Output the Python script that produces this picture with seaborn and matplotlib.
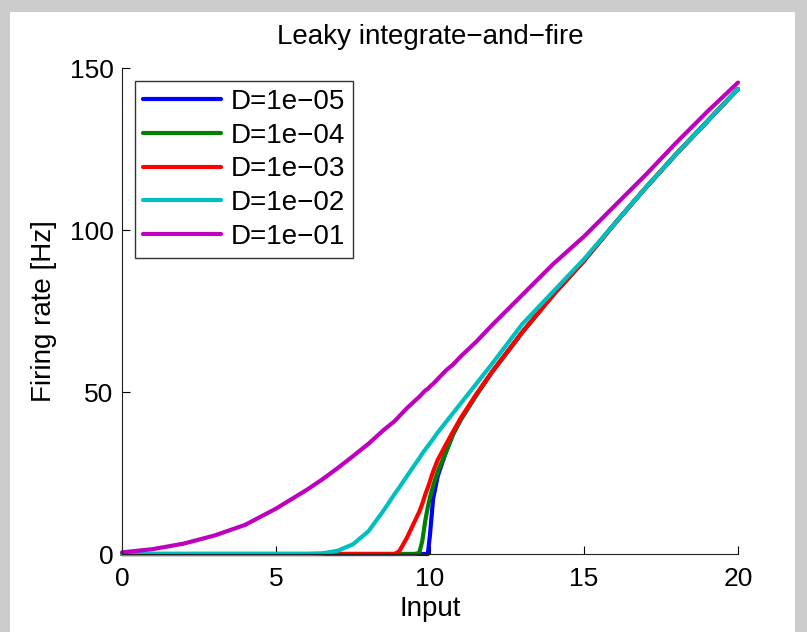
import numpy as np
import pandas as pd
import matplotlib
matplotlib.use("Agg")
import matplotlib.pyplot as plt
import seaborn as sns
from matplotlib.patches import Rectangle

# Values
x_input = [0, 1, 2, 3, 4, 5, 6, 6.5, 7, 7.5, 8, 8.5, 8.85, 9, 9.25, 9.5, 9.65, 9.75,
           9.85, 9.93, 10, 10.1, 10.25, 10.5, 10.75, 11, 11.5, 12, 13, 14, 15, 16,
           17, 18, 19, 20]

rate_d1e05 = [0, 0, 0, 0, 0, 0, 0, 0, 0, 0, 0, 0, 0, 0, 0, 0, 0, 0,
              0, 0, 6, 17, 24, 31, 37, 41.5, 49, 56, 68.5, 80, 90.5, 102,
              113, 123.5, 133.5, 143.5]
rate_d1e04 = [0, 0, 0, 0, 0, 0, 0, 0, 0, 0, 0, 0, 0, 0, 0, 0, 0.3, 4,
              10.5, 14.5, 17.5, 21, 25.5, 31, 37, 41.5, 49, 56, 68.5, 80, 90.5, 102,
              113, 123.5, 133.5, 143.5]
rate_d1e03 = [0, 0, 0, 0, 0, 0, 0, 0, 0, 0, 0, 0, 0, 0.8, 5, 10, 13, 15.5,
              18.5, 20.5, 22.5, 25.4, 29, 33.5, 37.8, 42, 49.3, 56, 68.5, 80, 90.5, 102,
              113, 123.5, 133.5, 143.5]
rate_d1e02 = [0, 0, 0, 0, 0, 0, 0, 0.2, 1, 3, 7, 13.5, 18.5, 20.5, 24, 27.5, 29.5, 31,
              32.3, 33.3, 34.2, 35.5, 37.5, 40.5, 43.5, 46.5, 52.5, 58.5, 71, 81, 91, 102,
              113, 123.5, 133.5, 143.5]
rate_d1e01 = [0.5, 1.5, 3.2, 5.7, 9, 14, 19.8, 23, 26.5, 30.2, 34, 38.3, 41, 42.5, 45, 47.2, 48.5, 49.5,
              50.5, 51, 51.7, 52.5, 54, 56.5, 58.5, 61, 65.5, 70.5, 80, 89.5, 98, 107.5,
              117, 127, 136.5, 145.5]

labels = ["D=1e\u221205", "D=1e\u221204", "D=1e\u221203", "D=1e\u221202", "D=1e\u221201"]
series = [rate_d1e05, rate_d1e04, rate_d1e03, rate_d1e02, rate_d1e01]
colors = ["#0000ff", "#008000", "#ff0000", "#00bfbf", "#bf00bf"]

df = pd.concat([pd.DataFrame({"Input": x_input, "Rate": s, "D": lab})
                for lab, s in zip(labels, series)], ignore_index=True)

sns.set_style("ticks")
plt.rcParams["font.family"] = ["Liberation Sans", "DejaVu Sans"]
plt.rcParams["text.color"] = "black"
plt.rcParams["axes.labelcolor"] = "black"

fig = plt.figure(figsize=(8.07, 6.32), dpi=100, facecolor="#cccccc")
# white page with grey border on left, top, right
fig.patches.append(Rectangle((10 / 807, 0), (795 - 10) / 807, 1 - 12 / 632,
                             transform=fig.transFigure, facecolor="white",
                             edgecolor="none", zorder=-1))

ax = fig.add_axes([122 / 807, 1 - 554 / 632, (738 - 122) / 807, (554 - 68) / 632])
ax.set_facecolor("white")

sns.lineplot(data=df, x="Input", y="Rate", hue="D", hue_order=labels,
             palette=colors, linewidth=3, ax=ax, clip_on=False, estimator=None,
             sort=False)

ax.set_xlim(0, 20)
ax.set_ylim(0, 150)
ax.set_xticks([0, 5, 10, 15, 20])
ax.set_yticks([0, 50, 100, 150])
ax.tick_params(direction="in", length=6, width=0.8, labelsize=19, colors="black",
               labelcolor="black", top=False, right=False)
ax.tick_params(axis="x", pad=9)
ax.tick_params(axis="y", pad=6)
for side in ["top", "right"]:
    ax.spines[side].set_visible(False)
for side in ["left", "bottom"]:
    ax.spines[side].set_linewidth(0.8)
    ax.spines[side].set_color("#222222")

ax.set_title("Leaky integrate\u2212and\u2212fire", fontsize=20, pad=17, color="black")
ax.set_xlabel("Input", fontsize=20, labelpad=4)
ax.set_ylabel("Firing rate [Hz]", fontsize=20, labelpad=9)

leg = ax.legend(loc="upper left", fontsize=20, frameon=True, fancybox=False,
                edgecolor="black", handlelength=2.8, handletextpad=0.35,
                labelspacing=0.28, borderpad=0.3, borderaxespad=0.45)
leg.get_frame().set_linewidth(1.0)
for line in leg.get_lines():
    line.set_linewidth(3)
for t in leg.get_texts():
    t.set_color("black")

fig.savefig("out.png", dpi=100, facecolor=fig.get_facecolor())
